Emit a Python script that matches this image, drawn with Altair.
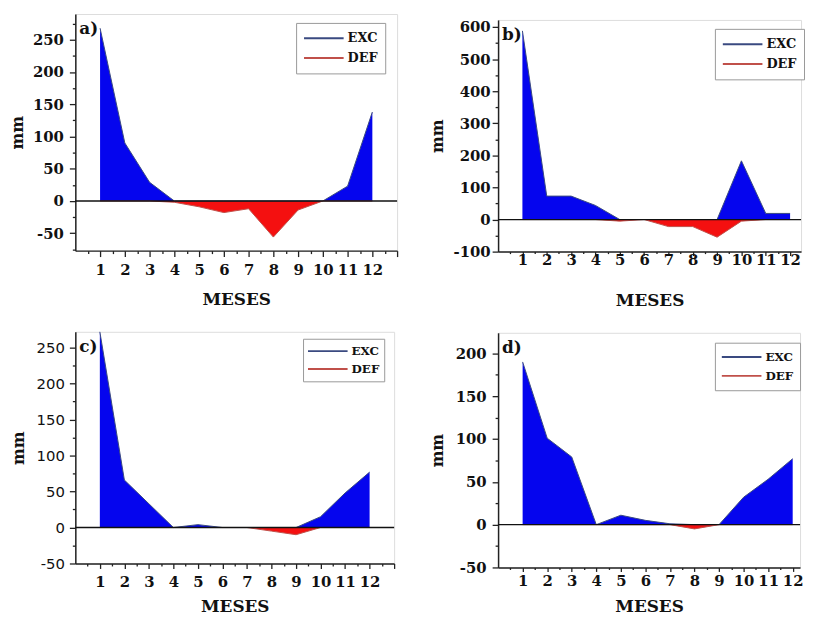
import altair as alt
import pandas as pd

months = list(range(1, 13))
series_names = ["EXC", "DEF"]

exc_a = [268, 90, 29, 0, 0, 0, 0, 0, 0, 0, 23, 138]
def_a = [0, 0, 0, -2, -9, -18, -12, -56, -14, 0, 0, 0]
exc_b = [588, 73, 73, 44, 0, 0, 0, 0, 0, 183, 19, 19]
def_b = [0, 0, 0, 0, -5, 0, -22, -22, -55, -5, 0, 0]
exc_c = [272, 66, 33, 0, 4, 0, 0, 0, 0, 15, 48, 77]
def_c = [0, 0, 0, 0, 0, 0, 0, -5, -10, 0, 0, 0]
exc_d = [190, 101, 79, 0, 11, 5, 1, 0, 0, 32, 53, 77]
def_d = [0, 0, 0, 0, 0, 0, 0, -5, 0, 0, 0, 0]

SERIF = "DejaVu Serif"
SANS = "DejaVu Sans"
BLUE = "#0505ee"
RED = "#f41010"
LEG_EXC = "#3a4a80"
LEG_DEF = "#c0504a"


def panel(tag, exc, dfc, ydom, ystep, ylab_step, width, height, xmax,
          ylab_font=SERIF, ylab_weight="bold", ylab_pad=6, ytitle_pad=7,
          xtick=5, xlab_pad=0, xtitle_pad=13, leg_x=220, leg_y=9, leg_font=13,
          leg_pad=7, leg_row=3):
    df = pd.DataFrame({
        "mes": months * 2,
        "valor": exc + dfc,
        "serie": [series_names[0]] * 12 + [series_names[1]] * 12,
        "base": [0] * 24,
    })
    zero_df = pd.DataFrame({"mes": [0], "valor": [0], "base": [0]})

    xvals = [v / 2 for v in range(1, int(xmax * 2) + 1)]
    yvals = []
    v = int(ydom[0] // ystep) * ystep
    while v <= ydom[1]:
        if v >= ydom[0]:
            yvals.append(v)
        v += ystep

    xaxis = alt.Axis(
        values=xvals, grid=False, labelOverlap=False, labelFlush=False,
        labelExpr="(datum.value % 1 === 0 && datum.value <= 12) ? '' + datum.value : ''",
        tickSize={"condition": {"test": "datum.value % 1 !== 0", "value": xtick / 2}, "value": xtick},
        labelPadding=xlab_pad, titlePadding=xtitle_pad,
        labelFont=SERIF, labelFontWeight="bold", labelFontSize=15, labelColor="#111",
        titleFont=SERIF, titleFontWeight="bold", titleFontSize=17, titleColor="#111",
        domainColor="#222", domainWidth=1.5, tickColor="#222", tickWidth=1.3,
    )
    yaxis = alt.Axis(
        values=yvals, grid=False, labelOverlap=False, labelFlush=False,
        labelExpr=f"datum.value % {ylab_step} === 0 ? '' + datum.value : ''",
        tickSize={"condition": {"test": f"datum.value % {ylab_step} !== 0", "value": 3}, "value": 6},
        labelPadding=ylab_pad, titlePadding=ytitle_pad,
        labelFont=ylab_font, labelFontWeight=ylab_weight, labelFontSize=15, labelColor="#111",
        titleFont=SERIF, titleFontWeight="bold", titleFontSize=16, titleColor="#111",
        domainColor="#222", domainWidth=1.5, tickColor="#222", tickWidth=1.3,
    )
    x = alt.X("mes:Q", scale=alt.Scale(domain=[0, xmax], nice=False, zero=False), axis=xaxis, title="MESES")
    y = alt.Y("valor:Q", scale=alt.Scale(domain=list(ydom), nice=False, zero=False), axis=yaxis, title="mm")

    base = alt.Chart(df)
    area_exc = base.transform_filter(alt.datum.serie == "EXC").mark_area(color=BLUE, opacity=1).encode(
        x=x, y=y, y2="base:Q")
    area_def = base.transform_filter(alt.datum.serie == "DEF").mark_area(color=RED, opacity=1).encode(
        x=x, y=y, y2="base:Q")
    lines = base.mark_line(strokeWidth=1).encode(
        x=x, y=y,
        color=alt.Color("serie:N", scale=alt.Scale(domain=series_names, range=[LEG_EXC, LEG_DEF]),
                        legend=alt.Legend(
                            title=None, orient="none", legendX=leg_x, legendY=leg_y,
                            fillColor="white", strokeColor="#999", padding=leg_pad,
                            symbolType="stroke", symbolSize=1600, symbolStrokeWidth=2,
                            clipHeight=17, rowPadding=leg_row, labelOffset=3,
                            labelFont=SERIF, labelFontWeight="bold", labelFontSize=leg_font,
                            labelColor="#111")),
    )
    zero = alt.Chart(zero_df).mark_rule(color="#111", strokeWidth=1.3).encode(y=y)
    label = alt.Chart(zero_df).mark_text(
        align="left", baseline="middle", font=SERIF, fontWeight="bold", fontSize=17, color="#111"
    ).encode(x=alt.value(4), y=alt.value(15), text=alt.value(tag))

    return alt.layer(area_exc, area_def, lines, zero, label).properties(width=width, height=height)


pa = panel("a)", exc_a, def_a, (-77, 290), 25, 50, 325, 239, 13,
           ytitle_pad=7, xtick=6, xlab_pad=6, xtitle_pad=14, leg_x=223, leg_y=9)
pb = panel("b)", exc_b, def_b, (-100, 622), 50, 100, 306, 234, 12.45,
           ylab_pad=2, ytitle_pad=8, xtick=4, xlab_pad=-3, xtitle_pad=25,
           leg_x=219, leg_y=9)
pc = panel("c)", exc_c, def_c, (-50, 272), 25, 50, 322, 234, 13,
           ylab_font=SANS, ylab_weight="normal", ylab_pad=5, ytitle_pad=10,
           xtick=5, xlab_pad=6, xtitle_pad=10, leg_x=230, leg_y=7, leg_font=12,
           leg_pad=4, leg_row=1)
pd_ = panel("d)", exc_d, def_d, (-50, 224), 25, 50, 305, 237, 12.3,
            ylab_pad=6, ytitle_pad=10, xtick=4, xlab_pad=2, xtitle_pad=10,
            leg_x=219, leg_y=10, leg_font=12, leg_pad=6, leg_row=2)

spacer = alt.Chart(pd.DataFrame({"v": [0]})).mark_rule(opacity=0).encode(
    x=alt.value(0), x2=alt.value(1), y=alt.value(0), y2=alt.value(1)
).properties(width=1, height=1, view=alt.ViewBackground(strokeOpacity=0))

col1 = alt.vconcat(pa, pc, spacing=21).resolve_scale(color="independent").resolve_legend(color="independent")
col2 = alt.vconcat(
    alt.vconcat(spacer, pb, spacing=4).resolve_scale(color="independent").resolve_legend(color="independent"),
    pd_, spacing=23).resolve_scale(color="independent").resolve_legend(color="independent")

chart = alt.hconcat(col1, col2, spacing=29).resolve_scale(color="independent").resolve_legend(
    color="independent").properties(
    padding={"left": 1, "top": 2, "right": 0, "bottom": 0}
).configure_view(stroke="#222", strokeWidth=1.5).configure(background="white")

chart.save("out.html", embed_options={"renderer": "svg", "actions": False})
